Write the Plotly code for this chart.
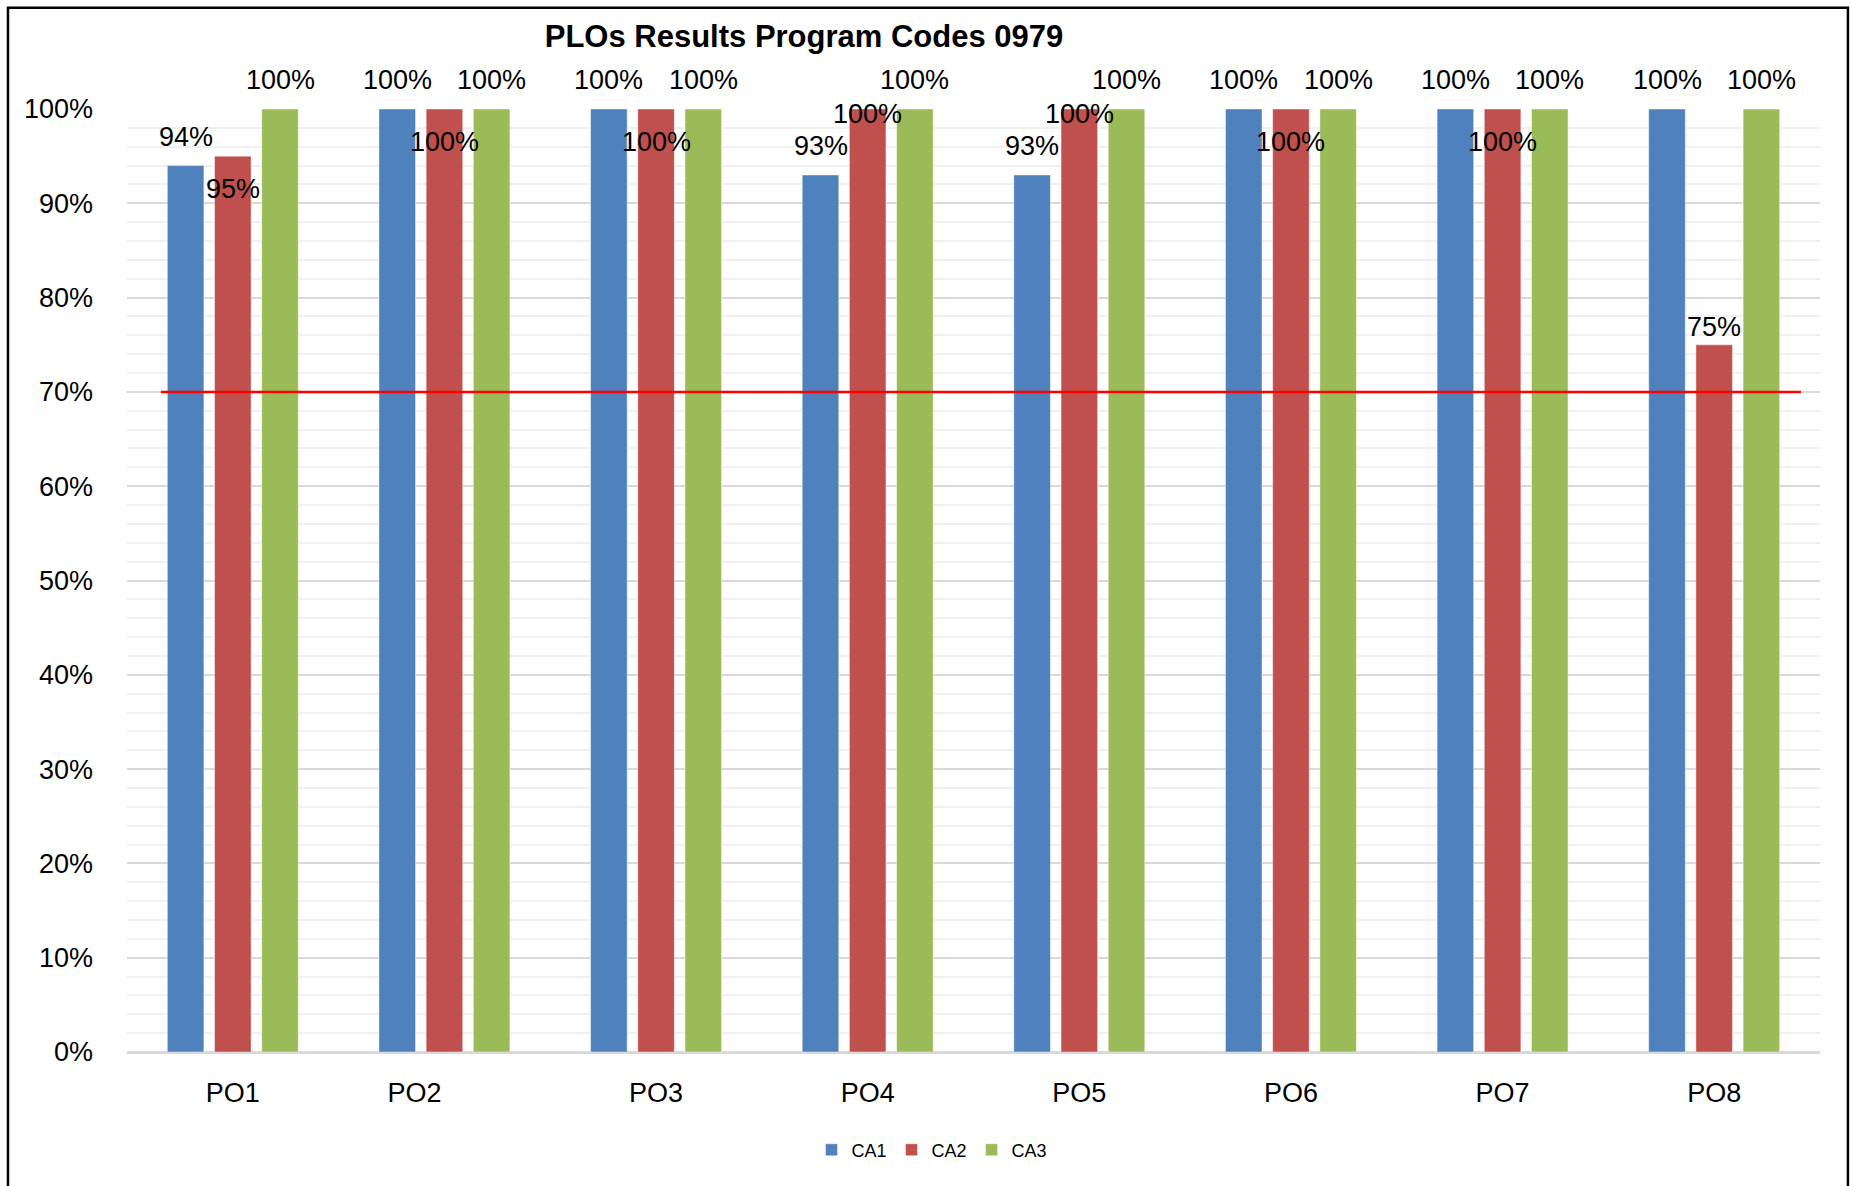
import plotly.graph_objects as go

categories = ["PO1", "PO2", "PO3", "PO4", "PO5", "PO6", "PO7", "PO8"]
ca1 = [0.94, 1.00, 1.00, 0.93, 0.93, 1.00, 1.00, 1.00]
ca2 = [0.95, 1.00, 1.00, 1.00, 1.00, 1.00, 1.00, 0.75]
ca3 = [1.00, 1.00, 1.00, 1.00, 1.00, 1.00, 1.00, 1.00]
series_names = ["CA1", "CA2", "CA3"]
target = 0.70
y_ticks = [0, 0.1, 0.2, 0.3, 0.4, 0.5, 0.6, 0.7, 0.8, 0.9, 1.0]
y_tick_labels = ["0%", "10%", "20%", "30%", "40%", "50%", "60%", "70%", "80%", "90%", "100%"]

# styling (label vertical offsets in px, positive = up)
colors = ["#4F81BD", "#C0504D", "#9BBB59"]
label_shift = [
    [29] * 8,
    [-33, -33, -33, -5, -5, -33, -33, 18],
    [29] * 8,
]
FONT = "Liberation Sans, Arial, sans-serif"

fig = go.Figure()
all_series = [ca1, ca2, ca3]
for i, (name, vals) in enumerate(zip(series_names, all_series)):
    fig.add_trace(go.Bar(
        x=categories, y=vals, name=name,
        marker=dict(color=colors[i], line=dict(color="rgba(255,255,255,0.45)", width=1)),
        offsetgroup=str(i),
    ))

# data labels as annotations positioned relative to each bar
slot = (1 - 0.331) / 3
for i, vals in enumerate(all_series):
    for j, v in enumerate(vals):
        fig.add_annotation(
            x=j + (i - 1) * slot, y=v, xref="x", yref="y",
            text=f"{round(v * 100)}%", showarrow=False,
            yshift=label_shift[i][j], yanchor="middle", xanchor="center",
            font=dict(family=FONT, size=27, color="#000000"),
        )

# 70% target line
fig.add_shape(type="line", xref="x", yref="y", x0=-0.34, x1=7.41, y0=target, y1=target,
              line=dict(color="#FF0000", width=2.5), layer="above")

# outer frame
fig.add_shape(type="rect", xref="paper", yref="paper",
              x0=-0.0703, x1=1.0165, y0=-0.25, y1=1.1075,
              line=dict(color="#000000", width=2.5), fillcolor="rgba(0,0,0,0)", layer="above")

tick_text = [c if c != "PO2" else c + "\u00a0" * 8 for c in categories]

fig.update_layout(
    width=1850, height=1186,
    margin=dict(l=127, r=30, t=109, b=134),
    paper_bgcolor="white", plot_bgcolor="white",
    barmode="group", bargap=0.331, bargroupgap=0.225,
    title=dict(text="<b>PLOs Results Program Codes 0979</b>", x=0.4346, xanchor="center",
               y=0.9696, yanchor="middle", xref="container", yref="container",
               font=dict(family=FONT, size=31, color="#000000")),
    font=dict(family=FONT, color="#000000"),
    showlegend=True,
    legend=dict(orientation="h", x=0.4755, xanchor="center", y=-0.104, yanchor="middle",
                font=dict(family=FONT, size=18, color="#000000"), traceorder="normal",
                itemwidth=30),
)
fig.update_xaxes(
    type="category", range=[-0.5, 7.5],
    tickvals=categories, ticktext=tick_text,
    showgrid=False, showline=False, ticks="", zeroline=False,
    tickfont=dict(family=FONT, size=27, color="#000000"),
    ticklabelstandoff=22,
)
fig.update_yaxes(
    range=[0, 1.0], tickvals=y_ticks, ticktext=y_tick_labels,
    showgrid=True, gridcolor="#D9D9D9", gridwidth=2,
    minor=dict(dtick=0.02, showgrid=True, gridcolor="#F0F0F0", gridwidth=2, tick0=0),
    zeroline=True, zerolinecolor="#D9D9D9", zerolinewidth=3,
    showline=False, ticks="",
    tickfont=dict(family=FONT, size=27, color="#000000"),
    ticklabelstandoff=33,
)

fig.write_html("out.html", config={"displayModeBar": False},
               post_script="document.body.style.margin='0';")
